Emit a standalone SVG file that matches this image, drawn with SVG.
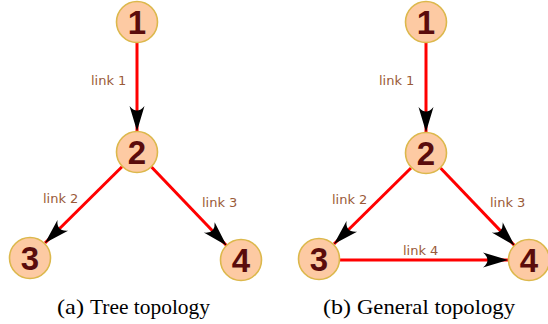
<svg xmlns="http://www.w3.org/2000/svg" width="548" height="324" viewBox="0 0 548 324">
<style>
.node circle{fill:#fdcaa3;stroke:#dcb84c;stroke-width:1.6}
.node text{font-family:"Liberation Sans",Arial,sans-serif;font-weight:bold;font-size:33px;fill:#5a0c0c;text-anchor:middle}
.edge{stroke:#ff0000;stroke-width:3;fill:none}
.lbl{font-family:"DejaVu Sans",sans-serif;font-size:13px;fill:#9a5a38}
.cap{font-family:"Liberation Serif",serif;font-size:22px;fill:#000}
</style>
<defs>
<marker id="ah" markerUnits="userSpaceOnUse" markerWidth="30" markerHeight="20" viewBox="-26 -10 28 20" refX="0" refY="0" orient="auto">
<path d="M0,0 L-25,-7.5 Q-16,0 -25,7.5 Z" fill="#000"/>
</marker>
</defs>
<rect width="548" height="324" fill="#fff"/>
<g id="connectors">
<line class="edge" x1="137" y1="43" x2="137" y2="131" marker-end="url(#ah)"/>
<line class="edge" x1="122" y1="166.7" x2="45" y2="243" marker-end="url(#ah)"/>
<line class="edge" x1="151.5" y1="167" x2="226.5" y2="245.5" marker-end="url(#ah)"/>
<line class="edge" x1="426" y1="43" x2="426" y2="132" marker-end="url(#ah)"/>
<line class="edge" x1="411" y1="168" x2="334" y2="244" marker-end="url(#ah)"/>
<line class="edge" x1="440.5" y1="168" x2="514.5" y2="245.5" marker-end="url(#ah)"/>
<line class="edge" x1="340" y1="260" x2="508" y2="260" marker-end="url(#ah)"/>
</g>
<g id="labels">
<text class="lbl" x="91" y="85">link 1</text>
<text class="lbl" x="43" y="203">link 2</text>
<text class="lbl" x="202" y="207">link 3</text>
<text class="lbl" x="379" y="85">link 1</text>
<text class="lbl" x="332" y="204">link 2</text>
<text class="lbl" x="490" y="207">link 3</text>
<text class="lbl" x="403" y="255">link 4</text>
</g>
<g id="a1" class="node"><circle cx="137" cy="22" r="20.5"/><text x="137" y="34">1</text></g>
<g id="a2" class="node"><circle cx="137" cy="152" r="20.5"/><text x="137" y="164">2</text></g>
<g id="a3" class="node"><circle cx="30" cy="258" r="20.5"/><text x="30" y="270">3</text></g>
<g id="a4" class="node"><circle cx="241" cy="260" r="20.5"/><text x="241" y="272">4</text></g>
<g id="b1" class="node"><circle cx="426" cy="22" r="20.5"/><text x="426" y="34">1</text></g>
<g id="b2" class="node"><circle cx="426" cy="153" r="20.5"/><text x="426" y="165">2</text></g>
<g id="b3" class="node"><circle cx="319" cy="259" r="20.5"/><text x="319" y="271">3</text></g>
<g id="b4" class="node"><circle cx="529" cy="260" r="20.5"/><text x="529" y="272">4</text></g>
<g id="captions">
<text class="cap" x="57" y="314" textLength="27" lengthAdjust="spacingAndGlyphs">(a)</text>
<text class="cap" x="90" y="314" textLength="120" lengthAdjust="spacingAndGlyphs">Tree topology</text>
<text class="cap" x="323" y="314" textLength="28" lengthAdjust="spacingAndGlyphs">(b)</text>
<text class="cap" x="357" y="314" textLength="158" lengthAdjust="spacingAndGlyphs">General topology</text>
</g>
</svg>
